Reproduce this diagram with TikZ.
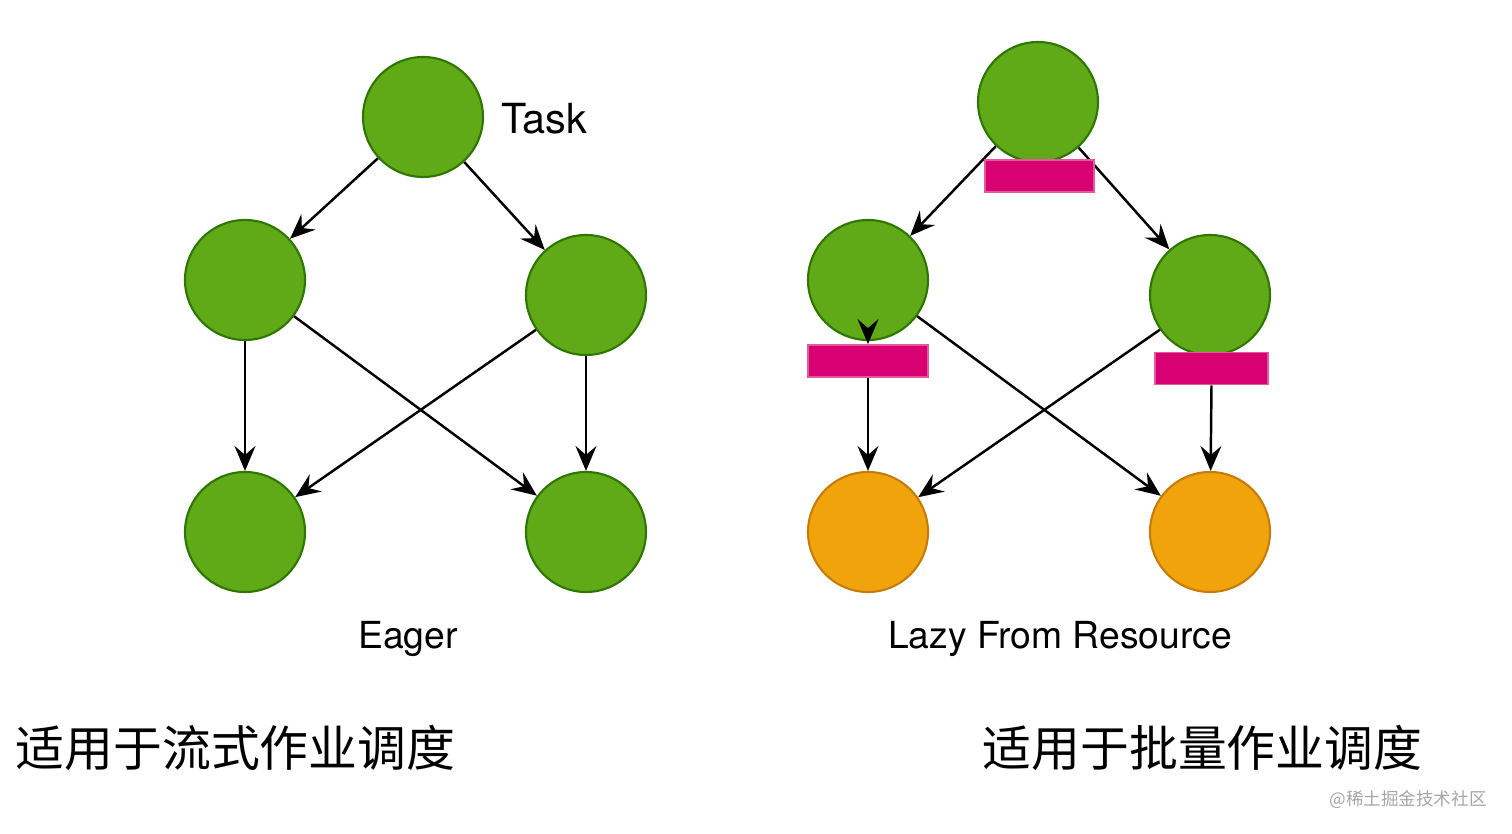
\documentclass[tikz,border=0pt]{standalone}
\usepackage{fontspec}
\setmainfont{TeX Gyre Heros}
\newfontfamily\cjk{Noto Sans CJK SC}
\usetikzlibrary{arrows.meta}
\definecolor{taskgreen}{HTML}{60a917}
\definecolor{taskgreenline}{HTML}{2d7600}
\definecolor{waitorange}{HTML}{f0a30a}
\definecolor{waitorangeline}{HTML}{c77c0a}
\definecolor{resbar}{HTML}{d80073}
\definecolor{resbarline}{HTML}{e35a9c}

\begin{document}
\begin{tikzpicture}[
        task/.style={circle, draw=taskgreenline, fill=taskgreen, line width=0.6pt, minimum size=1.2cm, inner sep=0pt},
        waiting/.style={task, draw=waitorangeline, fill=waitorange},
        bar/.style={rectangle, draw=resbarline, fill=resbar, line width=0.5pt, inner sep=0pt, minimum height=0.32cm},
        dep/.style={line width=0.7pt, -{Stealth[length=2.5mm, width=2.1mm, inset=0.9mm]}},
        lbl/.style={font=\fontsize{10.6pt}{13pt}\selectfont},
        cnlbl/.style={font=\cjk\fontsize{13.9pt}{16pt}\selectfont}
    ]
                    \useasboundingbox (0,0) rectangle (15.12,8.34);
                    % Eager
                    \node[task] (task) at (4.23,7.17) {};
                    \node[task] (lmid) at (2.45,5.54) {};
                    \node[task] (rmid) at (5.86,5.39) {};
                    \node[task] (lbot) at (2.45,3.02) {};
                    \node[task] (rbot) at (5.86,3.02) {};
                    \node[lbl, font=\fontsize{11.8pt}{14pt}\selectfont, anchor=west] (tasklbl) at (4.89,7.15) {Task};
                    \draw[dep] (task) -- (lmid);
                    \draw[dep] (task) -- (rmid);
                    \draw[dep] (lmid) -- (lbot);
                    \draw[dep] (lmid) -- (rbot);
                    \draw[dep] (rmid) -- (lbot);
                    \draw[dep] (rmid) -- (rbot);
                    \node[lbl] (eager) at (4.08,1.95) {Eager};
                    % Lazy from resource
                    \node[task] (ltop) at (10.38,7.32) {};
                    \node[task] (llmid) at (8.68,5.54) {};
                    \node[task] (lrmid) at (12.10,5.39) {};
                    \node[waiting] (llbot) at (8.68,3.02) {};
                    \node[waiting] (lrbot) at (12.10,3.02) {};
                    \draw[dep] (ltop) -- (llmid);
                    \draw[dep] (ltop) -- (lrmid);
                    \node[bar, minimum width=1.09cm] (topbar) at (10.395,6.58) {};
                    \node[bar, minimum width=1.20cm] (lbar) at (8.68,4.73) {};
                    \node[bar, minimum width=1.13cm] (rbar) at (12.115,4.655) {};
                    \draw[dep] (llmid) -- (lbar);
                    \draw[dep] (lbar) -- (llbot);
                    \draw[dep] (llmid) -- (lrbot);
                    \draw[dep] (lrmid) -- (llbot);
                    \draw[dep] (rbar.south) -- (lrbot);
                    \node[lbl] (lazy) at (10.60,1.95) {Lazy From Resource};
                    % captions
                    \node[cnlbl] (cnleft) at (2.355,0.86) {适用于流式作业调度};
                    \node[cnlbl] (cnright) at (12.025,0.86) {适用于批量作业调度};
                    \node[font=\cjk\fontsize{5pt}{6pt}\selectfont, text=black!35] (mark) at (14.08,0.34) {@稀土掘金技术社区};
                \end{tikzpicture}
\end{document}
